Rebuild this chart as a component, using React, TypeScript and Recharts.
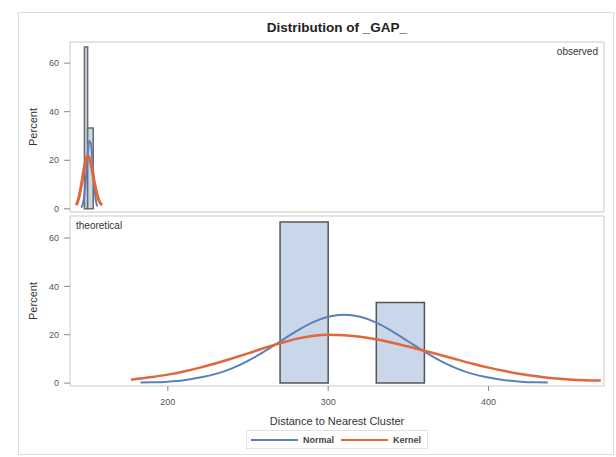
import React from 'react';
import { ComposedChart, Line, XAxis, YAxis, ReferenceArea, Legend } from 'recharts';

// shared scales
const xDomain: [number, number] = [139, 472];
const xTicks = [200, 300, 400];
const yTicks = [0, 20, 40, 60];

// observed panel
const obsBinLo = [148, 150];
const obsBinHi = [150, 153.5];
const obsPct = [66.67, 33.33];
const obsNormalX = [146, 147, 148, 149, 150, 151, 152, 153, 154, 155, 156];
const obsNormalY = [0.5, 2, 6, 13, 22, 28, 27, 20, 11, 4, 1];
const obsKernelX = [143, 144.5, 146, 147.5, 149, 150, 151, 152.5, 154, 155.5, 157, 159];
const obsKernelY = [1.5, 4.5, 9.5, 15.5, 20.5, 22, 21, 17, 11.5, 7, 3.5, 1.5];

// theoretical panel
const binLo = [270, 300, 330];
const binHi = [300, 330, 360];
const binPct = [66.67, 0, 33.33];
const normalX = [183, 190, 200, 210, 220, 230, 240, 250, 260, 270, 280, 290, 300, 310, 320, 330, 340, 350, 360, 370, 380, 390, 400, 410, 420, 430, 437];
const normalY = [0.2, 0.3, 0.6, 1.2, 2.3, 3.8, 6.1, 9.2, 13.0, 17.2, 21.4, 25.0, 27.4, 28.3, 27.4, 25.0, 21.4, 17.2, 13.0, 9.2, 6.1, 3.8, 2.3, 1.2, 0.6, 0.3, 0.2];
const kernelX = [177, 190, 200, 210, 220, 230, 240, 250, 260, 270, 280, 290, 300, 310, 320, 330, 340, 350, 360, 370, 380, 390, 400, 410, 420, 430, 440, 450, 460, 470];
const kernelY = [1.4, 2.5, 3.5, 4.8, 6.4, 8.2, 10.2, 12.3, 14.5, 16.5, 18.3, 19.5, 20.0, 19.8, 19.2, 18.1, 16.7, 15.1, 13.4, 11.6, 9.8, 8.0, 6.4, 5.0, 3.8, 2.8, 2.0, 1.5, 1.2, 1.1];

const legendOrder = ['Normal', 'Kernel'];

const BLUE = '#5b80b9';
const ORANGE = '#e0673a';
const BAR_FILL = '#cad6e9';
const FRAME = '#c9c9c9';
const FONT = '"Liberation Sans", Arial, sans-serif';

type Row = { x: number; normal?: number; kernel?: number };

// join both curves on one x column so they can live in one chart
function mergeCurves(xa: number[], ya: number[], xb: number[], yb: number[]): Row[] {
  const rows = new Map<number, Row>();
  xa.forEach((x, i) => rows.set(x, { x, normal: ya[i] }));
  xb.forEach((x, i) => {
    const r = rows.get(x) || { x };
    r.kernel = yb[i];
    rows.set(x, r);
  });
  return [...rows.values()].sort((a, b) => a.x - b.x);
}

const obsRows = mergeCurves(obsNormalX, obsNormalY, obsKernelX, obsKernelY);
const theoRows = mergeCurves(normalX, normalY, kernelX, kernelY);

const tickStyle = { fontSize: 9, fill: '#555' };

const renderLegend = (props: any) => {
  const payload = [...(props.payload || [])].sort(
    (a: any, b: any) => legendOrder.indexOf(a.value) - legendOrder.indexOf(b.value)
  );
  return (
    <div
      style={{
        display: 'flex',
        alignItems: 'center',
        height: 17,
        border: '1px solid #e3e3e3',
        paddingLeft: 4,
        fontSize: 9,
        fontWeight: 'bold',
        color: '#444',
        fontFamily: FONT,
      }}
    >
      {payload.map((p: any) => (
        <span key={p.value} style={{ display: 'flex', alignItems: 'center', marginRight: 7 }}>
          <span style={{ width: 47, height: 0, borderTop: `2.5px solid ${p.color}`, marginRight: 5 }} />
          {p.value}
        </span>
      ))}
    </div>
  );
};

export default function App() {
  return (
    <div style={{ position: 'absolute', left: 0, top: 0, width: 616, height: 457, background: '#fff', fontFamily: FONT }}>
      <div style={{ position: 'absolute', left: 18, top: 12, width: 594, height: 441, border: '1px solid #dedede' }} />
      <div
        style={{
          position: 'absolute',
          left: 70,
          top: 19,
          width: 534,
          textAlign: 'center',
          fontSize: 13.5,
          lineHeight: '17px',
          fontWeight: 'bold',
          color: '#222',
        }}
      >
        Distribution of _GAP_
      </div>

      {/* observed */}
      <div style={{ position: 'absolute', left: 0, top: 0 }}>
        <ComposedChart width={616} height={457} data={obsRows} margin={{ top: 42, right: 12, bottom: 245, left: 0 }}>
          <XAxis dataKey="x" type="number" domain={xDomain} allowDataOverflow hide />
          <YAxis
            type="number"
            domain={[-1.3, 68.7]}
            allowDataOverflow
            ticks={yTicks}
            width={70}
            axisLine={false}
            tickLine={{ stroke: '#888' }}
            tickSize={6}
            tickMargin={5}
            tick={tickStyle}
            label={{ value: 'Percent', angle: -90, position: 'center', dx: -2, fontSize: 11, fill: '#333' }}
          />
          <ReferenceArea
            x1={xDomain[0]}
            x2={xDomain[1]}
            y1={-1.3}
            y2={68.7}
            fill="none"
            stroke={FRAME}
            label={{ value: 'observed', position: 'insideTopRight', offset: 6, fontSize: 10, fill: '#333' }}
          />
          {obsPct.map((p, i) => (
            <ReferenceArea
              key={i}
              x1={obsBinLo[i]}
              x2={obsBinHi[i]}
              y1={0}
              y2={p}
              fill={BAR_FILL}
              fillOpacity={1}
              stroke="#6a6a6a"
              strokeWidth={1.5}
            />
          ))}
          <Line type="monotone" dataKey="normal" stroke={BLUE} strokeWidth={2} dot={false} connectNulls isAnimationActive={false} />
          <Line type="monotone" dataKey="kernel" stroke={ORANGE} strokeWidth={3} dot={false} connectNulls isAnimationActive={false} />
        </ComposedChart>
      </div>

      {/* theoretical */}
      <div style={{ position: 'absolute', left: 0, top: 0 }}>
        <ComposedChart width={616} height={457} data={theoRows} margin={{ top: 216, right: 12, bottom: 12, left: 0 }}>
          <XAxis
            dataKey="x"
            type="number"
            domain={xDomain}
            allowDataOverflow
            ticks={xTicks}
            height={40}
            axisLine={false}
            tickLine={{ stroke: '#888' }}
            tickSize={5}
            tickMargin={8}
            tick={tickStyle}
            label={{ value: 'Distance to Nearest Cluster', position: 'insideBottom', offset: 1, fontSize: 11, fill: '#333' }}
          />
          <YAxis
            type="number"
            domain={[-1.2, 69.1]}
            allowDataOverflow
            ticks={yTicks}
            width={70}
            axisLine={false}
            tickLine={{ stroke: '#888' }}
            tickSize={6}
            tickMargin={5}
            tick={tickStyle}
            label={{ value: 'Percent', angle: -90, position: 'center', dx: -2, fontSize: 11, fill: '#333' }}
          />
          <ReferenceArea
            x1={xDomain[0]}
            x2={xDomain[1]}
            y1={-1.2}
            y2={69.1}
            fill="none"
            stroke={FRAME}
            label={{ value: 'theoretical', position: 'insideTopLeft', offset: 6, fontSize: 10, fill: '#333' }}
          />
          {binPct.map((p, i) => (
            <ReferenceArea
              key={i}
              x1={binLo[i]}
              x2={binHi[i]}
              y1={0}
              y2={p}
              fill={BAR_FILL}
              fillOpacity={1}
              stroke="#555"
              strokeWidth={1.5}
            />
          ))}
          <Line type="monotone" dataKey="normal" name="Normal" legendType="plainline" stroke={BLUE} strokeWidth={2} dot={false} connectNulls isAnimationActive={false} />
          <Line type="monotone" dataKey="kernel" name="Kernel" legendType="plainline" stroke={ORANGE} strokeWidth={2.5} dot={false} connectNulls isAnimationActive={false} />
          <Legend
            layout="vertical"
            align="center"
            verticalAlign="bottom"
            content={renderLegend}
            wrapperStyle={{ left: 246, top: 430, width: 182, bottom: 'auto' }}
          />
        </ComposedChart>
      </div>
    </div>
  );
}
